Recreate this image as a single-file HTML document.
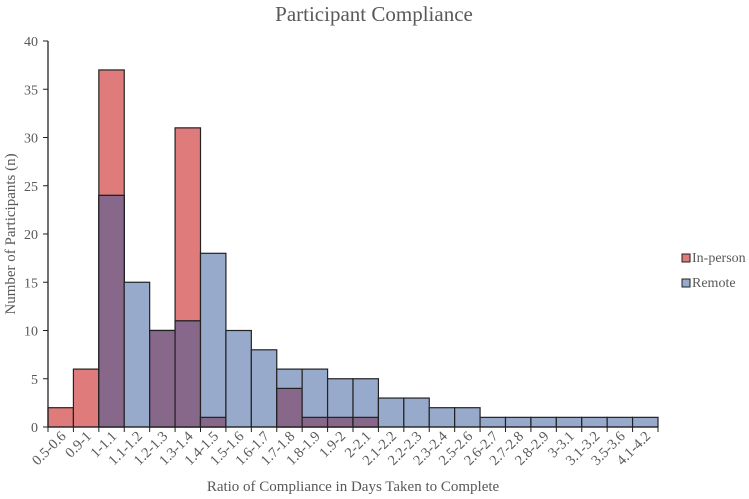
<!DOCTYPE html>
<html><head><meta charset="utf-8"><style>
html,body{margin:0;padding:0;background:#fff}
svg{display:block;font-family:"Liberation Serif",serif}
</style></head><body>
<svg id="chart" width="749" height="499" viewBox="0 0 749 499">
<text x="374" y="21" text-anchor="middle" font-size="21" fill="#595959">Participant Compliance</text>
<text transform="translate(15,234) rotate(-90)" text-anchor="middle" font-size="15" fill="#595959">Number of Participants (n)</text>
<text x="353" y="491" text-anchor="middle" font-size="15" fill="#595959">Ratio of Compliance in Days Taken to Complete</text>
<g id="bars"></g><g id="axes"></g>
<g>
<rect x="682" y="254" width="8" height="8" fill="#e07b7b" stroke="#222" stroke-width="1"/>
<text x="692" y="262" font-size="14" fill="#595959">In-person</text>
<rect x="682" y="279" width="8" height="8" fill="#97aacb" stroke="#222" stroke-width="1"/>
<text x="692" y="287" font-size="14" fill="#595959">Remote</text>
</g>
</svg>
<script>
const categories=["0.5-0.6","0.9-1","1-1.1","1.1-1.2","1.2-1.3","1.3-1.4","1.4-1.5","1.5-1.6","1.6-1.7","1.7-1.8","1.8-1.9","1.9-2","2-2.1","2.1-2.2","2.2-2.3","2.3-2.4","2.5-2.6","2.6-2.7","2.7-2.8","2.8-2.9","3-3.1","3.1-3.2","3.5-3.6","4.1-4.2"];
const inPerson=[2,6,37,0,10,31,1,0,0,4,1,1,1,0,0,0,0,0,0,0,0,0,0,0];
const remote=[0,0,24,15,10,11,18,10,8,6,6,5,5,3,3,2,2,1,1,1,1,1,1,1];
const yTicks=[0,5,10,15,20,25,30,35,40];
const NS="http://www.w3.org/2000/svg";
const X0=48,X1=658,Y0=427,Y1=41,YMAX=40;
const bw=(X1-X0)/categories.length;
const x=i=>X0+i*bw;
const y=v=>Y0-(v/YMAX)*(Y0-Y1);
const bars=document.getElementById('bars'),axes=document.getElementById('axes');
function mk(tag,attrs,parent){const e=document.createElementNS(NS,tag);for(const k in attrs)e.setAttribute(k,attrs[k]);parent.appendChild(e);return e;}
categories.forEach((c,i)=>{
  const a=inPerson[i],b=remote[i],m=Math.min(a,b);
  if(a>0){const r=mk('rect',{x:x(i),y:y(a),width:bw,height:Y0-y(a),fill:'#e07b7b',stroke:'#222','stroke-width':1.2},bars);
    
    }
  if(b>0){const r=mk('rect',{x:x(i),y:y(b),width:bw,height:Y0-y(b),fill:'#97aacb',stroke:'#222','stroke-width':1.2},bars);
    
    }
  if(m>0){const r=mk('rect',{x:x(i),y:y(m),width:bw,height:Y0-y(m),fill:'#87678a',stroke:'#222','stroke-width':1.2},bars);
    
    }
  const t=mk('line',{x1:x(i),x2:x(i),y1:Y0,y2:Y0+5,stroke:'#222','stroke-width':1},axes);
  
  
  const cx=x(i)+bw/2;
  const l=mk('text',{transform:`translate(${cx+6},${Y0+10}) rotate(-45)`,'text-anchor':'end','font-size':14.5,fill:'#595959'},axes);
  l.textContent=c;
  
  
});
const lt=mk('line',{x1:X1,x2:X1,y1:Y0,y2:Y0+5,stroke:'#222','stroke-width':1},axes);


const xa=mk('line',{x1:X0,x2:X1,y1:Y0,y2:Y0,stroke:'#222','stroke-width':1.3},axes);


const ya=mk('line',{x1:X0,x2:X0,y1:Y1,y2:Y0,stroke:'#222','stroke-width':1.3},axes);


yTicks.forEach(v=>{
  const t=mk('line',{x1:X0-5,x2:X0,y1:y(v),y2:y(v),stroke:'#222','stroke-width':1},axes);
  
  
  const l=mk('text',{x:X0-10,y:y(v)+5,'text-anchor':'end','font-size':14,fill:'#595959'},axes);
  l.textContent=v;
  
  
});
</script>
</body></html>
